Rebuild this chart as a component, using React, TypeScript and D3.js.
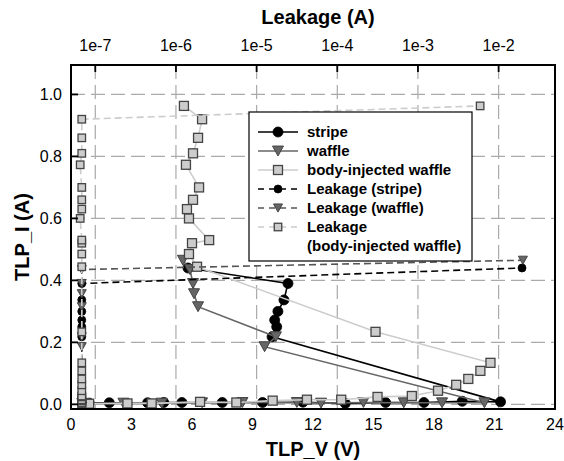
import React, { useEffect, useRef } from 'react';
import * as d3 from 'd3';

// TLP curves (TLP_V in V, TLP_I in A)
const stripeV = [0.9, 1.9, 3.8, 4.6, 5.5, 7.5, 9.5, 11.5, 13.6, 15.6, 17.5, 19.4, 21.3, 9.97, 10.2, 10.1, 10.26, 10.56, 10.76, 5.8];
const stripeI = [0.004, 0.005, 0.005, 0.006, 0.006, 0.006, 0.006, 0.007, 0.003, 0.006, 0.006, 0.01, 0.008, 0.218, 0.25, 0.272, 0.3, 0.337, 0.39, 0.44];

const waffleV = [0.7, 2.6, 4.5, 6.5, 8.5, 11.2, 12.4, 14.5, 16.5, 18.4, 20.5, 9.6, 10.16, 6.3, 6.1, 6.05, 5.9, 5.55];
const waffleI = [0.003, 0.004, 0.004, 0.005, 0.006, 0.006, 0.004, 0.006, 0.005, 0.005, 0.005, 0.186, 0.218, 0.315, 0.357, 0.39, 0.435, 0.465];

const bodyV = [0.9, 2.8, 4.0, 6.4, 8.2, 10.0, 11.7, 13.4, 15.2, 16.9, 18.2, 19.1, 19.7, 20.3, 20.8, 15.1, 6.25, 5.85, 6.0, 6.85, 5.85, 5.75, 6.05, 6.35, 5.7, 6.05, 6.3, 6.5, 5.6];
const bodyI = [0.002, 0.003, 0.003, 0.008, 0.006, 0.012, 0.015, 0.015, 0.024, 0.027, 0.044, 0.063, 0.082, 0.108, 0.134, 0.234, 0.444, 0.485, 0.52, 0.53, 0.6, 0.63, 0.66, 0.7, 0.773, 0.81, 0.86, 0.92, 0.963];

// leakage (A) measured after each pulse, same currents as above
const stripeLeak = [6.8e-8, 6.8e-8, 6.8e-8, 6.8e-8, 6.8e-8, 6.8e-8, 6.8e-8, 6.8e-8, 6.8e-8, 6.8e-8, 6.8e-8, 6.8e-8, 6.8e-8, 6.8e-8, 6.8e-8, 6.8e-8, 6.8e-8, 6.8e-8, 6.8e-8, 1.95e-2];
const waffleLeak = [6.8e-8, 6.8e-8, 6.8e-8, 6.8e-8, 6.8e-8, 6.8e-8, 6.8e-8, 6.8e-8, 6.8e-8, 6.8e-8, 6.8e-8, 6.8e-8, 6.8e-8, 6.8e-8, 6.8e-8, 6.8e-8, 6.8e-8, 2.0e-2];
const bodyLeak = [6.8e-8, 6.8e-8, 6.8e-8, 6.8e-8, 6.8e-8, 6.8e-8, 6.8e-8, 6.8e-8, 6.8e-8, 6.8e-8, 6.8e-8, 6.8e-8, 6.8e-8, 6.8e-8, 6.8e-8, 6.8e-8, 6.8e-8, 6.8e-8, 6.8e-8, 6.8e-8, 6.5e-8, 6.8e-8, 6.8e-8, 6.8e-8, 6.5e-8, 6.8e-8, 6.8e-8, 6.8e-8, 5.9e-3];

const vTicks = [0, 3, 6, 9, 12, 15, 18, 21, 24];
const iTicks = [0, 0.2, 0.4, 0.6, 0.8, 1.0];
const leakTicks = [1e-7, 1e-6, 1e-5, 1e-4, 1e-3, 1e-2];
const leakTickLabels = ['1e-7', '1e-6', '1e-5', '1e-4', '1e-3', '1e-2'];

const legendLabels = ['stripe', 'waffle', 'body-injected waffle', 'Leakage (stripe)', 'Leakage (waffle)', 'Leakage', '(body-injected waffle)'];

type Shape = 'circle' | 'triangle' | 'square';

interface Series {
  xs: number[];
  ys: number[];
  log: boolean;
  shape: Shape;
  size: number;
  line: string;
  fill: string;
  dash: string | null;
}

const App: React.FC = () => {
  const ref = useRef<SVGSVGElement | null>(null);

  useEffect(() => {
    const width = 564;
    const height = 461;
    const font = 'Liberation Sans, Arial, sans-serif';

    const svg = d3.select(ref.current)
      .attr('width', width)
      .attr('height', height)
      .style('position', 'absolute')
      .style('left', 0)
      .style('top', 0)
      .style('background', '#ffffff');
    svg.selectAll('*').remove();

    const x = d3.scaleLinear().domain([0, 24]).range([71, 555]);
    const xTop = d3.scaleLog().domain([5e-8, 5e-2]).range([71, 555]);
    const y = d3.scaleLinear().domain([-0.015, 1.095]).range([409, 65]);

    const [x0, x1] = x.range();
    const [y0, y1] = y.range();

    // grid
    const grid = svg.append('g')
      .attr('stroke', '#aaaaaa')
      .attr('stroke-width', 1.2)
      .attr('stroke-dasharray', '14,6');
    grid.selectAll('line.v')
      .data(leakTicks)
      .join('line')
        .attr('x1', d => xTop(d)).attr('x2', d => xTop(d))
        .attr('y1', y1).attr('y2', y0);
    grid.selectAll('line.h')
      .data(iTicks)
      .join('line')
        .attr('class', 'h')
        .attr('x1', x0).attr('x2', x1)
        .attr('y1', d => y(d)).attr('y2', d => y(d));

    const marker = (g: d3.Selection<SVGGElement, unknown, null, undefined>, shape: Shape, cx: number, cy: number, s: number, fill: string) => {
      if (shape === 'circle') {
        g.append('circle').attr('cx', cx).attr('cy', cy).attr('r', s / 2)
          .attr('fill', fill).attr('stroke', '#000').attr('stroke-width', 0.8);
      } else if (shape === 'square') {
        g.append('rect').attr('x', cx - s / 2).attr('y', cy - s / 2)
          .attr('width', s).attr('height', s)
          .attr('fill', fill).attr('stroke', '#444').attr('stroke-width', 1.3);
      } else {
        const h = s * 0.9;
        g.append('path')
          .attr('d', `M${cx - s / 2},${cy - h / 2}L${cx + s / 2},${cy - h / 2}L${cx},${cy + h / 2}Z`)
          .attr('fill', fill).attr('stroke', '#444').attr('stroke-width', 1);
      }
    };

    const series: Series[] = [
      { xs: stripeV, ys: stripeI, log: false, shape: 'circle', size: 10, line: '#000000', fill: '#000000', dash: null },
      { xs: waffleV, ys: waffleI, log: false, shape: 'triangle', size: 11, line: '#666666', fill: '#666666', dash: null },
      { xs: bodyV, ys: bodyI, log: false, shape: 'square', size: 9, line: '#cccccc', fill: '#cccccc', dash: null },
      { xs: stripeLeak, ys: stripeI, log: true, shape: 'circle', size: 8, line: '#000000', fill: '#000000', dash: '7,4' },
      { xs: waffleLeak, ys: waffleI, log: true, shape: 'triangle', size: 9, line: '#555555', fill: '#666666', dash: '7,4' },
      { xs: bodyLeak, ys: bodyI, log: true, shape: 'square', size: 7.5, line: '#cccccc', fill: '#cccccc', dash: '7,4' },
    ];

    const plot = svg.append('g');
    series.forEach(s => {
      const px = (v: number) => (s.log ? xTop(v) : x(v));
      const pts: [number, number][] = s.xs.map((v, i) => [px(v), y(s.ys[i])]);
      const g = plot.append('g');
      g.append('path')
        .attr('d', d3.line()(pts))
        .attr('fill', 'none')
        .attr('stroke', s.line)
        .attr('stroke-width', 1.6)
        .attr('stroke-dasharray', s.dash);
      pts.forEach(p => marker(g, s.shape, p[0], p[1], s.size, s.fill));
    });

    // frame
    svg.append('rect')
      .attr('x', x0).attr('y', y1)
      .attr('width', x1 - x0).attr('height', y0 - y1)
      .attr('fill', 'none').attr('stroke', '#000').attr('stroke-width', 2);

    // inward ticks
    svg.append('g').selectAll('line')
      .data(leakTicks)
      .join('line')
        .attr('x1', d => xTop(d)).attr('x2', d => xTop(d))
        .attr('y1', y1).attr('y2', y1 + 7)
        .attr('stroke', '#000').attr('stroke-width', 1.8);
    svg.append('g').selectAll('line')
      .data(iTicks)
      .join('line')
        .attr('x1', x0).attr('x2', x0 + 7)
        .attr('y1', d => y(d)).attr('y2', d => y(d))
        .attr('stroke', '#000').attr('stroke-width', 1.8);

    // tick labels
    svg.append('g').selectAll('text')
      .data(vTicks)
      .join('text')
        .attr('x', d => x(d)).attr('y', 430)
        .attr('text-anchor', 'middle')
        .style('font', `16px ${font}`)
        .text(d => d);
    svg.append('g').selectAll('text')
      .data(iTicks)
      .join('text')
        .attr('x', 62).attr('y', d => y(d) + 6)
        .attr('text-anchor', 'end')
        .style('font', `16px ${font}`)
        .text(d => d3.format('.1f')(d));
    svg.append('g').selectAll('text')
      .data(leakTicks)
      .join('text')
        .attr('x', d => xTop(d)).attr('y', 51)
        .attr('text-anchor', 'middle')
        .style('font', `16px ${font}`)
        .text((d, i) => leakTickLabels[i]);

    // axis titles
    svg.append('text')
      .attr('x', 313).attr('y', 456)
      .attr('text-anchor', 'middle')
      .style('font', `bold 20px ${font}`)
      .text('TLP_V (V)');
    svg.append('text')
      .attr('x', 318).attr('y', 24)
      .attr('text-anchor', 'middle')
      .style('font', `bold 20px ${font}`)
      .text('Leakage (A)');
    svg.append('text')
      .attr('transform', 'translate(29,237) rotate(-90)')
      .attr('text-anchor', 'middle')
      .style('font', `bold 20px ${font}`)
      .text('TLP_I (A)');

    // legend
    const lg = svg.append('g');
    lg.append('rect')
      .attr('x', 249).attr('y', 112)
      .attr('width', 223).attr('height', 149)
      .attr('fill', '#fff').attr('stroke', '#000').attr('stroke-width', 1.2);
    const rowY = [132, 151, 170, 189, 208, 227];
    series.forEach((s, i) => {
      const g = lg.append('g');
      g.append('line')
        .attr('x1', 258).attr('x2', 298)
        .attr('y1', rowY[i]).attr('y2', rowY[i])
        .attr('stroke', s.line).attr('stroke-width', 1.6)
        .attr('stroke-dasharray', s.dash ? '6,5' : null);
      marker(g, s.shape, 278, rowY[i], s.size, s.fill);
    });
    lg.selectAll('text')
      .data(legendLabels)
      .join('text')
        .attr('x', 307)
        .attr('y', (d, i) => (i < 6 ? rowY[i] : 246) + 5)
        .style('font', `bold 15px ${font}`)
        .text(d => d);
  }, []);

  return (
    <svg ref={ref}></svg>
  );
};

export default App;
